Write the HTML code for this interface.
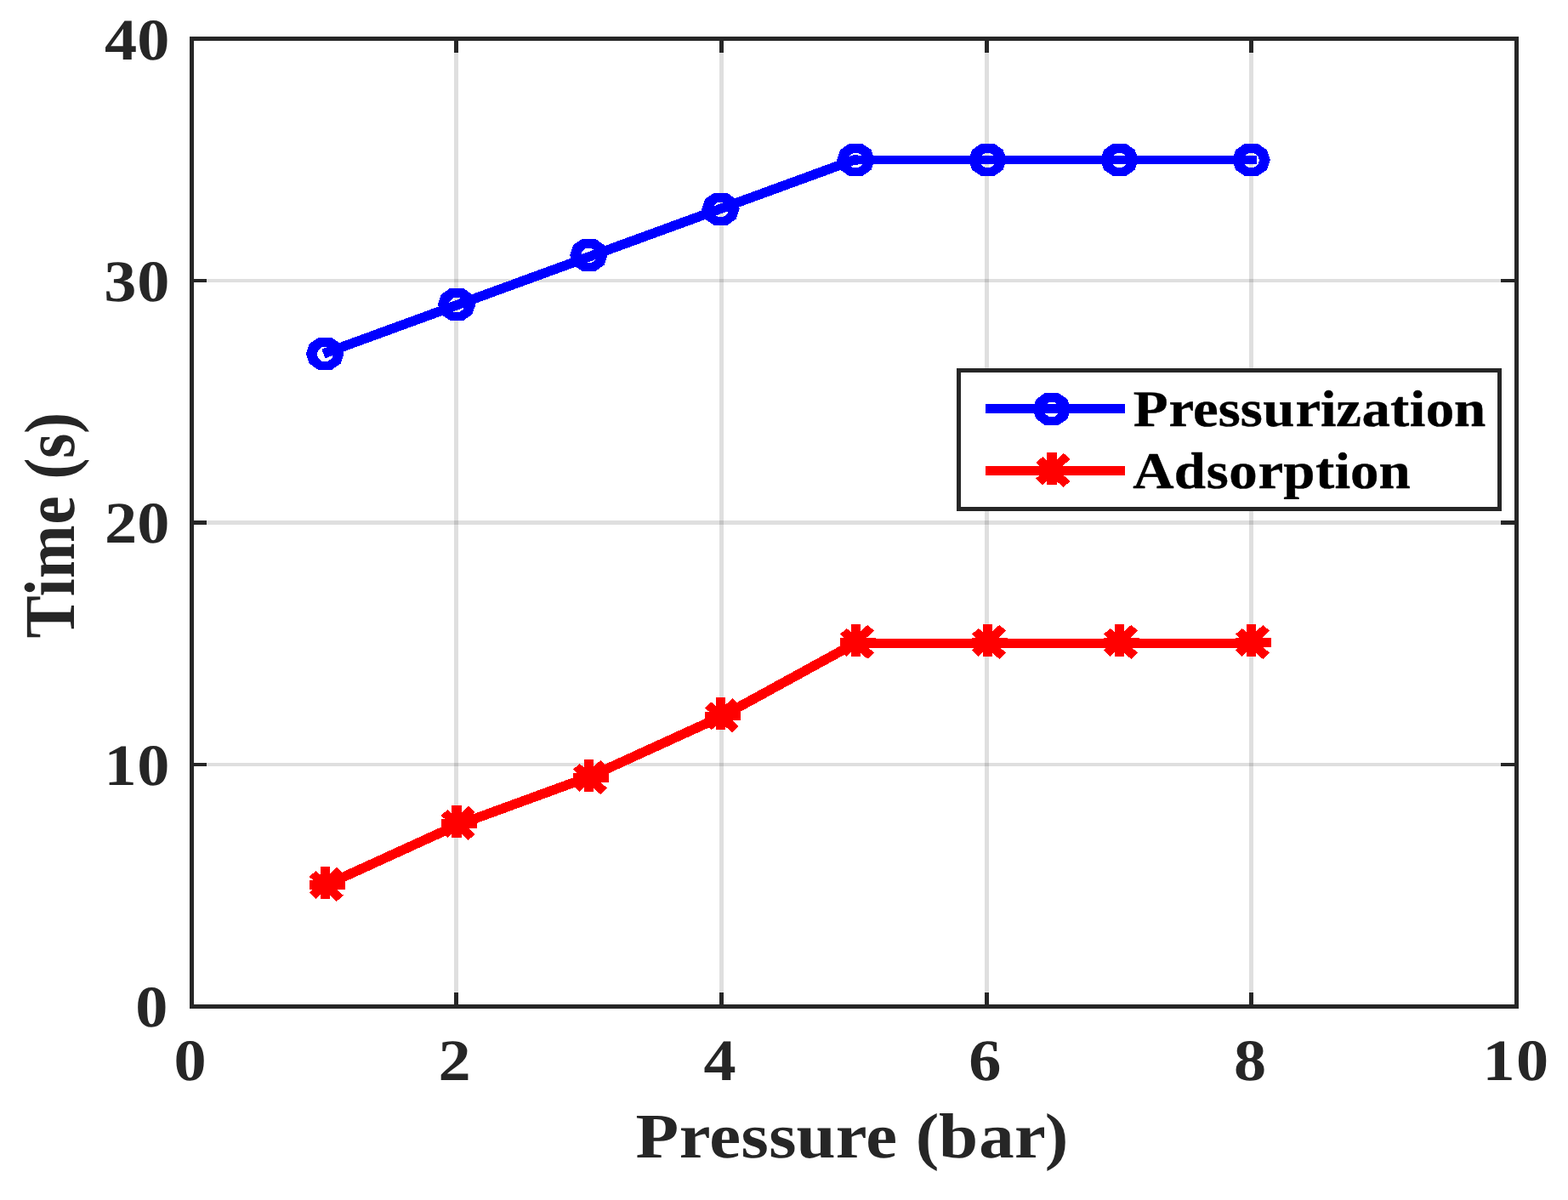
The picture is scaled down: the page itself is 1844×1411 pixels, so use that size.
<!DOCTYPE html>
<html lang="en"><head><meta charset="utf-8"><title>Time vs Pressure</title>
<style>
html,body{margin:0;padding:0;background:#fff;}
body{width:1844px;height:1411px;overflow:hidden;}
svg{display:block;}
text{font-family:"Liberation Serif", "Times New Roman", Times, serif;font-weight:bold;text-rendering:geometricPrecision;}
.tk{font-size:69px;fill:#262626;}
.lb{font-size:75px;fill:#262626;}
.lg{font-size:60.5px;fill:#000;stroke:#000;stroke-width:0.4px;stroke-linejoin:round;}
</style></head><body>
<svg width="1844" height="1411" viewBox="0 0 1844 1411" role="img" aria-label="Time versus pressure for pressurization and adsorption">
<rect x="0" y="0" width="1844" height="1411" fill="#fff"/>
<g id="grid" fill="#262626" fill-opacity="0.15">
<rect x="534" y="48" width="5" height="1133"/>
<rect x="846" y="48" width="5" height="1133"/>
<rect x="1158" y="48" width="5" height="1133"/>
<rect x="1469" y="48" width="5" height="1133"/>
<rect x="228" y="897" width="1553" height="4"/>
<rect x="228" y="612" width="1553" height="5"/>
<rect x="228" y="328" width="1553" height="4"/>
</g>
<g id="axes" fill="#262626">
<rect x="223" y="43" width="1563" height="5"/>
<rect x="223" y="1181" width="1563" height="5"/>
<rect x="223" y="43" width="5" height="1143"/>
<rect x="1781" y="43" width="5" height="1143"/>
<rect x="534" y="1167" width="5" height="14"/>
<rect x="534" y="48" width="5" height="14"/>
<rect x="846" y="1167" width="5" height="14"/>
<rect x="846" y="48" width="5" height="14"/>
<rect x="1158" y="1167" width="5" height="14"/>
<rect x="1158" y="48" width="5" height="14"/>
<rect x="1469" y="1167" width="5" height="14"/>
<rect x="1469" y="48" width="5" height="14"/>
<rect x="228" y="897" width="15" height="4"/>
<rect x="1765" y="897" width="16" height="4"/>
<rect x="228" y="612" width="15" height="5"/>
<rect x="1765" y="612" width="16" height="5"/>
<rect x="228" y="328" width="15" height="4"/>
<rect x="1765" y="328" width="16" height="4"/>
</g>
<defs>
<path id="mo" fill-rule="evenodd" d="M22.3,0L18.3,11.7L7.7,19.1L-7.7,19.1L-18.3,11.7L-22.3,0L-18.3,-11.7L-7.7,-19.1L7.7,-19.1L18.3,-11.7Z M9.3,0.6L8.4,4.6L6.2,6.9L3.2,9.1L-3.2,9.1L-6.2,6.9L-8.4,4.6L-9.3,0.6L-8.4,-3.4L-6.2,-5.7L-3.2,-7.9L3.2,-7.9L6.2,-5.7L8.4,-3.4Z"/>
<path id="ms" d="M-5.7,-21.5L5.7,-21.5L5.7,16.4L-5.7,16.4Z M-18.56,-5.32L23.47,-5.32L23.47,5.32L-18.56,5.32Z M-18.56,-9.69L-10.64,-16.51L21.56,12.15L13.65,19.5Z M-18.56,8.87L13.92,-20.6L21.56,-13.78L-10.92,16.51Z"/>
</defs>
<g id="series-pressurization" shape-rendering="crispEdges">
<polyline points="380.36,415.99 537.10,358.75 692.90,301.85 848.70,244.95 1004.50,188.05 1008.50,188.05" fill="none" stroke="#0000ff" stroke-width="11.4" stroke-linejoin="round" stroke-linecap="butt"/>
<rect x="1003.5" y="183" width="474.8" height="10" fill="#0000ff"/>
<use href="#mo" x="382.20" y="415.93" fill="#0000ff"/>
<use href="#mo" x="537.10" y="357.94" fill="#0000ff"/>
<use href="#mo" x="692.40" y="299.84" fill="#0000ff"/>
<use href="#mo" x="847.40" y="245.85" fill="#0000ff"/>
<use href="#mo" x="1006.40" y="187.94" fill="#0000ff"/>
<use href="#mo" x="1161.45" y="187.94" fill="#0000ff"/>
<use href="#mo" x="1316.45" y="187.94" fill="#0000ff"/>
<use href="#mo" x="1471.50" y="187.93" fill="#0000ff"/>
</g>
<g id="series-adsorption" shape-rendering="crispEdges">
<polyline points="380.39,1041.97 537.10,970.42 692.90,913.52 848.70,842.40 1004.50,757.05 1008.50,757.05" fill="none" stroke="#ff0000" stroke-width="11.4" stroke-linejoin="round" stroke-linecap="butt"/>
<rect x="1003.5" y="751" width="474.8" height="11" fill="#ff0000"/>
<use href="#ms" x="382.20" y="1040.53" fill="#ff0000"/>
<use href="#ms" x="537.10" y="968.52" fill="#ff0000"/>
<use href="#ms" x="692.40" y="914.49" fill="#ff0000"/>
<use href="#ms" x="847.40" y="841.94" fill="#ff0000"/>
<use href="#ms" x="1006.40" y="755.40" fill="#ff0000"/>
<use href="#ms" x="1161.45" y="755.40" fill="#ff0000"/>
<use href="#ms" x="1316.45" y="755.40" fill="#ff0000"/>
<use href="#ms" x="1471.50" y="755.50" fill="#ff0000"/>
</g>
<g id="legend">
<rect x="1127.5" y="435.5" width="636" height="163" fill="#fff" stroke="#262626" stroke-width="5"/>
<rect x="1159" y="475" width="164" height="11" fill="#0000ff"/>
<use href="#mo" x="1236.90" y="481.00" fill="#0000ff" shape-rendering="crispEdges"/>
<rect x="1159" y="548" width="164" height="11" fill="#ff0000"/>
<use href="#ms" x="1236.95" y="553.60" fill="#ff0000" shape-rendering="crispEdges"/>
<text class="lg" transform="translate(0 501.00) scale(1.105 1)" x="1206.22 1243.85 1269.66 1296.52 1320.12 1344.18 1378.75 1405.33 1422.02 1449.39 1479.61 1500.33 1517.47 1547.57">Pressurization</text>
<text class="lg" transform="translate(0 574.00) scale(1.105 1)" x="1205.73 1249.67 1284.01 1307.98 1338.96 1365.84 1399.95 1420.30 1437.08 1467.47">Adsorption</text>
</g>
<g id="ticklabels">
<text class="tk" transform="translate(0 70.00) scale(1.105 1)" x="111.40 145.88">40</text>
<text class="tk" transform="translate(0 354.00) scale(1.105 1)" x="110.68 145.88">30</text>
<text class="tk" transform="translate(0 638.10) scale(1.105 1)" x="111.31 145.88">20</text>
<text class="tk" transform="translate(0 923.10) scale(1.105 1)" x="110.77 145.88">10</text>
<text class="tk" transform="translate(0 1207.30) scale(1.105 1)" x="144.07">0</text>
<text class="tk" transform="translate(0 1270.00) scale(1.105 1)" x="185.07">0</text>
<text class="tk" transform="translate(0 1270.00) scale(1.105 1)" x="466.52">2</text>
<text class="tk" transform="translate(0 1270.00) scale(1.105 1)" x="748.96">4</text>
<text class="tk" transform="translate(0 1270.00) scale(1.105 1)" x="1030.95">6</text>
<text class="tk" transform="translate(0 1270.00) scale(1.105 1)" x="1313.12">8</text>
<text class="tk" transform="translate(0 1270.00) scale(1.105 1)" x="1577.92 1613.57">10</text>
</g>
<text class="lb" transform="translate(0 1360.90) scale(1.105 1)" x="676.44 722.80 754.90 788.61 818.34 847.58 889.32 921.55 954.84 974.33 999.10 1041.89 1079.70 1111.91">Pressure (bar)</text>
<text class="lb" transform="translate(86.70 750.00) rotate(-90) scale(1 1.123)" x="-0.55 48.77 70.02 133.61 166.91 186.64 211.15 240.12">Time (s)</text>
</svg>
</body></html>
